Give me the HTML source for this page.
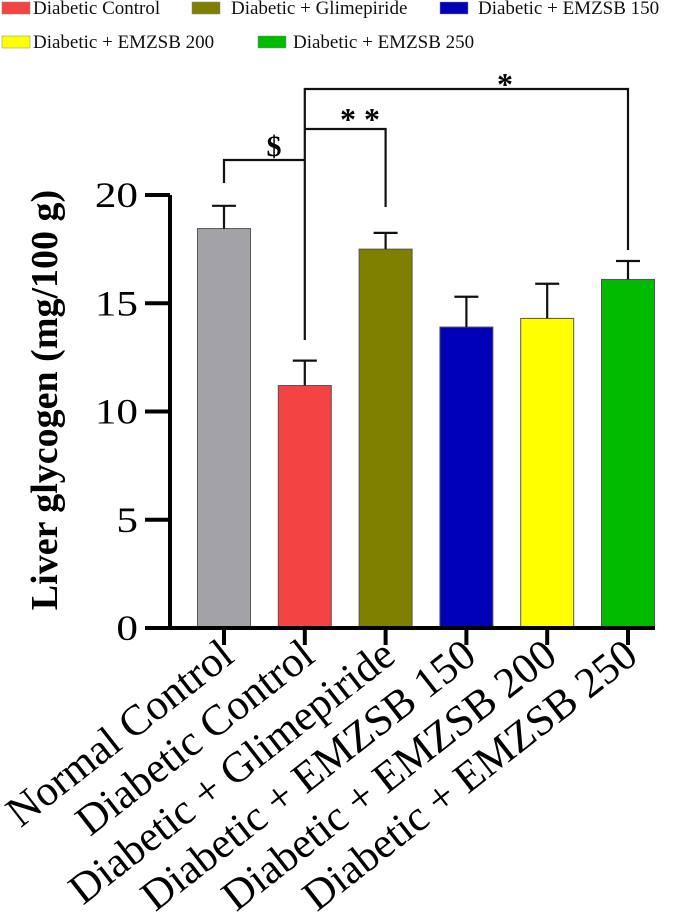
<!DOCTYPE html>
<html><head><meta charset="utf-8"><style>
html,body{margin:0;padding:0;background:#fff;}
svg{display:block;font-family:"Liberation Serif",serif;}
</style></head><body>
<svg id="chart" width="685" height="922" viewBox="0 0 685 922" xmlns="http://www.w3.org/2000/svg">
<g id="legend"></g>
<g id="plot"></g>
</svg>
<script>
const categories = ["Normal Control","Diabetic Control","Diabetic + Glimepiride","Diabetic + EMZSB 150","Diabetic + EMZSB 200","Diabetic + EMZSB 250"];
const means = [18.45, 11.2, 17.5, 13.9, 14.3, 16.1];
const errors = [1.05, 1.15, 0.75, 1.4, 1.6, 0.85];
const colors = ["#a3a2a6","#f44343","#7f7f00","#0000b8","#ffff00","#00bb00"];
const yTicks = [0,5,10,15,20];
const legendLabels = ["Diabetic Control","Diabetic + Glimepiride","Diabetic + EMZSB 150","Diabetic + EMZSB 200","Diabetic + EMZSB 250"];
const legendColors = ["#f44343","#7f7f00","#0000b8","#ffff00","#00bb00"];

const NS = "http://www.w3.org/2000/svg";
const x0 = 224, step = 80.8, barW = 53;
const yBase = 628, pxPerUnit = 21.65;
function xPos(i){ return x0 + i*step; }
function yPos(v){ return yBase - v*pxPerUnit; }
function mk(tag, attrs, parent){ const e=document.createElementNS(NS,tag); for(const k in attrs) e.setAttribute(k,attrs[k]); parent.appendChild(e); return e; }

const plot = document.getElementById('plot');
const legend = document.getElementById('legend');

// legend
const legPos = [[2,8,33],[192,8,231],[440,8,478],[2,42,33],[258,42,293]];
legendLabels.forEach((lab,i)=>{
  const [sx,cy,tx]=legPos[i];
  const g=mk('g',{},legend);
  
  
  const r=mk('rect',{x:sx,y:cy-6,width:28,height:12,fill:legendColors[i],stroke:'#888','stroke-width':0.5},g);
  
  
  const t=mk('text',{x:tx,y:cy+6,'font-size':19,fill:'#111'},g);
  
  
  t.textContent=lab;
});

// bars + error bars
means.forEach((m,i)=>{
  const cx=xPos(i);
  const b=mk('rect',{x:cx-barW/2,y:yPos(m),width:barW,height:yBase-yPos(m),fill:colors[i],stroke:'#555','stroke-width':1},plot);
  
  
  const top=yPos(m+errors[i]);
  const eb=mk('path',{d:`M${cx},${yPos(m)}V${top}M${cx-12},${top}H${cx+12}`,stroke:'#111','stroke-width':2.2,fill:'none'},plot);
  
  
});

// axes
const ax=mk('path',{d:`M170,${yPos(20)}V${yBase+2}M145,${yBase}H655`,stroke:'#000','stroke-width':4,fill:'none'},plot);


yTicks.forEach(v=>{
  const y=yPos(v);
  const tk=mk('line',{x1:145,x2:170,y1:y,y2:y,stroke:'#000','stroke-width':4},plot);
  
  
  const t=mk('text',{'font-size':36,'text-anchor':'end',transform:`translate(138,${y+12}) scale(1.2,1)`},plot);
  
  
  t.textContent=v;
});
categories.forEach((c,i)=>{
  const cx=xPos(i);
  const tk=mk('line',{x1:cx,x2:cx,y1:yBase,y2:yBase+17,stroke:'#000','stroke-width':4},plot);
  
  
  const t=mk('text',{'font-size':43,'text-anchor':'end',transform:`translate(${cx+12},660) rotate(-38)`},plot);
  
  
  t.textContent=c;
});

// y title
const yt=mk('text',{'font-size':38,'font-weight':'bold','text-anchor':'middle',transform:`translate(57,400) rotate(-90)`},plot);


yt.textContent='Liver glycogen (mg/100 g)';

// significance brackets
const br=mk('path',{d:`M${xPos(0)},183V160H${xPos(1)}M${xPos(1)},340V89H${xPos(5)}V250M${xPos(1)},129H${xPos(2)}V207`,stroke:'#111','stroke-width':2.2,fill:'none'},plot);


const marks=[["$",274,156,30],["* *",360,130,32],["*",505,95,32]];
marks.forEach(([s,x,y,fs])=>{
  const t=mk('text',{x:x,y:y,'font-size':fs,'font-weight':'bold','text-anchor':'middle'},plot);
  
  
  t.textContent=s;
});
</script>
</body></html>
